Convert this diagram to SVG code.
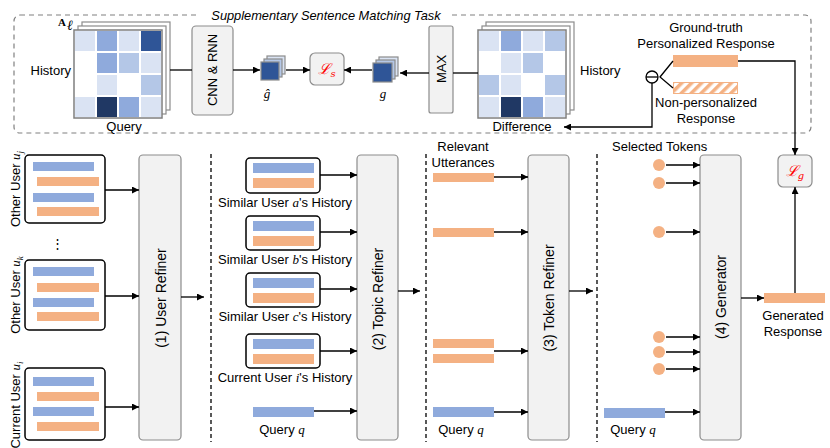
<svg xmlns="http://www.w3.org/2000/svg" width="830" height="448" viewBox="0 0 830 448">
<style>
text{font-family:"Liberation Sans",Arial,sans-serif;font-size:13px;fill:#000}
.m{font-family:"Liberation Serif","Times New Roman",serif;font-style:italic}
.ttl{font-style:italic;font-size:12.8px}
.rl{font-size:14px}
.ln{stroke:#000;stroke-width:1.3;fill:none}
.ar{stroke:#000;stroke-width:1.3;fill:none;marker-end:url(#ah)}
.sep{stroke:#000;stroke-width:1.3;stroke-dasharray:4 3;fill:none}
.blk{fill:#fff;stroke:#000;stroke-width:1.5}
.ref{fill:#f2f2f2;stroke:#8c8c8c;stroke-width:1.2}
.bl{fill:#8faadc}
.or{fill:#f4b183}
.lay{fill:#fff;stroke:#8c8c8c;stroke-width:1.2}
.L{fill:#dae3f3}.M{fill:#8faadc}.LM{fill:#b4c7e7}.D{fill:#2f5597}.DD{fill:#203864}
.loss{fill:#ff0000;font-family:"DejaVu Serif","Liberation Serif",serif;font-style:italic;font-size:15px}
</style>
<defs>
<marker id="ah" viewBox="0 0 10 10" refX="10" refY="5" markerWidth="7" markerHeight="7" orient="auto" markerUnits="userSpaceOnUse">
<path d="M0,0 L10,5 L0,10 z" fill="#000"/>
</marker>
<pattern id="hatch" patternUnits="userSpaceOnUse" width="7" height="7" patternTransform="rotate(45)">
<rect width="7" height="7" fill="#fff"/>
<rect width="3.5" height="7" fill="#f4b183"/>
</pattern>
</defs>

<!-- supplementary dashed region -->
<g id="supp-frame">
<rect x="14" y="15" width="797" height="118" rx="6" fill="none" stroke="#808080" stroke-width="1.2" stroke-dasharray="5 4"/>
<rect x="200" y="8" width="252" height="14" fill="#fff"/>
<text class="ttl" x="326" y="20" text-anchor="middle">Supplementary Sentence Matching Task</text>
</g>

<!-- matrix A -->
<g id="matrixA">
<rect class="lay" x="82" y="22" width="88" height="88"/>
<rect class="lay" x="78" y="26" width="88" height="88"/>
<rect x="74" y="30" width="88" height="88" fill="#fff" stroke="#7f7f7f" stroke-width="1.5"/>
<rect class="L" x="75" y="31" width="20" height="20"/><rect class="M" x="97" y="31" width="20" height="20"/><rect class="L" x="119" y="31" width="20" height="20"/><rect class="D" x="141" y="31" width="20" height="20"/>
<rect class="M" x="97" y="53" width="20" height="20"/><rect class="LM" x="119" y="53" width="20" height="20"/><rect class="L" x="141" y="53" width="20" height="20"/>
<rect class="L" x="97" y="75" width="20" height="20"/><rect class="LM" x="141" y="75" width="20" height="20"/>
<rect class="L" x="75" y="97" width="20" height="20"/><rect class="DD" x="97" y="97" width="20" height="20"/><rect class="M" x="119" y="97" width="20" height="20"/><rect class="L" x="141" y="97" width="20" height="20"/>
<text x="58" y="26" style="font-family:'Liberation Serif',serif;font-weight:bold;font-size:11px">A</text>
<text class="m" x="67" y="30" style="font-size:14px">ℓ</text>
<text x="71" y="75" text-anchor="end">History</text>
<text x="124" y="131" text-anchor="middle">Query</text>
</g>

<g id="cnn">
<rect class="ref" x="192" y="26" width="41" height="89" rx="4"/>
<text transform="translate(217,70) rotate(-90)" text-anchor="middle">CNN &amp; RNN</text>
</g>

<g id="ghat">
<rect class="lay" x="267" y="56" width="18" height="18" style="fill:#dae3f3"/>
<rect class="lay" x="264" y="59" width="18" height="18" style="fill:#b4c7e7"/>
<rect x="261" y="62" width="18" height="18" fill="#2f5597" stroke="#8c8c8c" stroke-width="1.2"/>
<text class="m" x="267" y="98" text-anchor="middle">ĝ</text>
</g>

<g id="Ls">
<rect class="ref" x="310" y="53" width="34" height="32" rx="5"/>
<text class="loss" x="327" y="74" text-anchor="middle">ℒ<tspan font-size="10" dy="3">s</tspan></text>
</g>

<g id="g">
<rect class="lay" x="379" y="57" width="19" height="19" style="fill:#dae3f3"/>
<rect class="lay" x="376" y="60" width="19" height="19" style="fill:#b4c7e7"/>
<rect x="373" y="63" width="19" height="19" fill="#2f5597" stroke="#8c8c8c" stroke-width="1.2"/>
<text class="m" x="383" y="98" text-anchor="middle">g</text>
</g>

<g id="max">
<rect class="ref" x="429" y="26" width="24" height="87" rx="2"/>
<text transform="translate(446,69) rotate(-90)" text-anchor="middle">MAX</text>
</g>

<g id="diff">
<rect class="lay" x="486" y="22" width="88" height="88"/>
<rect class="lay" x="482" y="26" width="88" height="88"/>
<rect x="478" y="30" width="88" height="88" fill="#fff" stroke="#7f7f7f" stroke-width="1.5"/>
<rect class="L" x="479" y="31" width="20" height="20"/><rect class="M" x="501" y="31" width="20" height="20"/><rect class="L" x="523" y="31" width="20" height="20"/><rect class="LM" x="545" y="31" width="20" height="20"/>
<rect class="L" x="501" y="53" width="20" height="20"/><rect class="LM" x="523" y="53" width="20" height="20"/>
<rect class="LM" x="479" y="75" width="20" height="20"/><rect class="L" x="501" y="75" width="20" height="20"/><rect class="LM" x="545" y="75" width="20" height="20"/>
<rect class="L" x="479" y="97" width="20" height="20"/><rect class="DD" x="501" y="97" width="20" height="20"/><rect class="M" x="523" y="97" width="20" height="20"/><rect class="L" x="545" y="97" width="20" height="20"/>
<text x="580" y="75">History</text>
<text x="522" y="131" text-anchor="middle">Difference</text>
</g>

<g id="responses">
<text x="706" y="32" text-anchor="middle">Ground-truth</text>
<text x="706" y="48" text-anchor="middle">Personalized Response</text>
<rect class="or" x="673" y="55" width="65" height="12"/>
<rect x="673.5" y="82.5" width="64" height="11" fill="url(#hatch)" stroke="#f4b183" stroke-width="1"/>
<text x="706" y="107" text-anchor="middle">Non-personalized</text>
<text x="706" y="123" text-anchor="middle">Response</text>
<circle cx="652" cy="77" r="6" fill="#fff" stroke="#000" stroke-width="1.3"/>
<line x1="646" y1="77" x2="658" y2="77" stroke="#000" stroke-width="1.3"/>
</g>

<!-- bottom: left column -->
<g id="users">
<rect class="blk" x="25" y="155" width="80" height="68" rx="4"/>
<rect class="bl" x="33" y="162" width="61" height="9"/><rect class="or" x="37" y="177" width="62" height="9"/>
<rect class="bl" x="33" y="193" width="61" height="9"/><rect class="or" x="37" y="207" width="62" height="9"/>
<rect class="blk" x="25" y="260" width="80" height="70" rx="4"/>
<rect class="bl" x="33" y="267" width="61" height="9"/><rect class="or" x="37" y="283" width="62" height="9"/>
<rect class="bl" x="33" y="298" width="61" height="9"/><rect class="or" x="37" y="312" width="62" height="9"/>
<rect class="blk" x="25" y="368" width="80" height="72" rx="4"/>
<rect class="bl" x="33" y="377" width="61" height="9"/><rect class="or" x="37" y="392" width="62" height="9"/>
<rect class="bl" x="33" y="407" width="61" height="9"/><rect class="or" x="37" y="422" width="62" height="9"/>
<text x="57" y="248" text-anchor="middle">⋮</text>
<text transform="translate(20,189) rotate(-90)" text-anchor="middle">Other User <tspan class="m">u</tspan><tspan class="m" font-size="9" dy="3">j</tspan></text>
<text transform="translate(20,295) rotate(-90)" text-anchor="middle">Other User <tspan class="m">u</tspan><tspan class="m" font-size="9" dy="3">k</tspan></text>
<text transform="translate(20,405) rotate(-90)" text-anchor="middle">Current User <tspan class="m">u</tspan><tspan class="m" font-size="9" dy="3">i</tspan></text>
</g>

<g id="user-refiner">
<rect class="ref" x="139" y="155" width="42" height="285" rx="4"/>
<text class="rl" transform="translate(166,298) rotate(-90)" text-anchor="middle">(1) User Refiner</text>
</g>

<g id="similar">
<rect class="blk" x="246" y="158" width="74" height="35" rx="4"/>
<rect class="bl" x="253" y="163" width="61" height="10"/><rect class="or" x="253" y="178" width="61" height="10"/>
<text x="285" y="207" text-anchor="middle">Similar User <tspan class="m">a</tspan>'s History</text>
<rect class="blk" x="246" y="216" width="74" height="34" rx="4"/>
<rect class="bl" x="253" y="221" width="61" height="10"/><rect class="or" x="253" y="236" width="61" height="10"/>
<text x="285" y="264" text-anchor="middle">Similar User <tspan class="m">b</tspan>'s History</text>
<rect class="blk" x="246" y="273" width="74" height="34" rx="4"/>
<rect class="bl" x="253" y="278" width="61" height="10"/><rect class="or" x="253" y="293" width="61" height="10"/>
<text x="285" y="321" text-anchor="middle">Similar User <tspan class="m">c</tspan>'s History</text>
<rect class="blk" x="246" y="334" width="74" height="34" rx="4"/>
<rect class="bl" x="253" y="339" width="61" height="10"/><rect class="or" x="253" y="354" width="61" height="10"/>
<text x="285" y="382" text-anchor="middle">Current User <tspan class="m">i</tspan>'s History</text>
<rect class="bl" x="253" y="407" width="61" height="10"/>
<text x="282" y="434" text-anchor="middle">Query <tspan class="m">q</tspan></text>
</g>

<g id="topic-refiner">
<rect class="ref" x="357" y="155" width="41" height="285" rx="4"/>
<text class="rl" transform="translate(383,299) rotate(-90)" text-anchor="middle">(2) Topic Refiner</text>
</g>

<g id="utterances">
<text x="463" y="151" text-anchor="middle">Relevant</text>
<text x="463" y="167" text-anchor="middle">Utterances</text>
<rect class="or" x="433" y="173" width="61" height="9"/>
<rect class="or" x="433" y="228" width="61" height="9"/>
<rect class="or" x="433" y="339" width="61" height="9"/>
<rect class="or" x="433" y="354" width="61" height="9"/>
<rect class="bl" x="433" y="407" width="61" height="10"/>
<text x="461" y="434" text-anchor="middle">Query <tspan class="m">q</tspan></text>
</g>

<g id="token-refiner">
<rect class="ref" x="528" y="155" width="41" height="285" rx="4"/>
<text class="rl" transform="translate(554,298) rotate(-90)" text-anchor="middle">(3) Token Refiner</text>
</g>

<g id="tokens">
<text x="612" y="151">Selected Tokens</text>
<circle class="or" cx="659" cy="165" r="6"/>
<circle class="or" cx="659" cy="183" r="6"/>
<circle class="or" cx="659" cy="232" r="6"/>
<circle class="or" cx="659" cy="337" r="6"/>
<circle class="or" cx="659" cy="352" r="6"/>
<circle class="or" cx="659" cy="369" r="6"/>
<rect class="bl" x="604" y="408" width="61" height="10"/>
<text x="633" y="434" text-anchor="middle">Query <tspan class="m">q</tspan></text>
</g>

<g id="generator">
<rect class="ref" x="700" y="155" width="41" height="285" rx="4"/>
<text class="rl" transform="translate(726,297) rotate(-90)" text-anchor="middle">(4) Generator</text>
</g>

<g id="generated">
<rect class="or" x="764" y="293" width="61" height="10"/>
<text x="793" y="320" text-anchor="middle">Generated</text>
<text x="793" y="336" text-anchor="middle">Response</text>
</g>

<g id="Lg">
<rect class="ref" x="778" y="155" width="34" height="32" rx="5"/>
<text class="loss" x="795" y="176" text-anchor="middle">ℒ<tspan font-size="10" dy="3">g</tspan></text>
</g>

<g id="connectors">
<line class="sep" x1="211" y1="154" x2="211" y2="442"/>
<line class="sep" x1="426" y1="154" x2="426" y2="442"/>
<line class="sep" x1="597" y1="154" x2="597" y2="442"/>
<!-- top -->
<line class="ln" x1="170" y1="70" x2="192" y2="70"/>
<line class="ar" x1="233" y1="70" x2="260" y2="70"/>
<line class="ar" x1="286" y1="70" x2="310" y2="70"/>
<line class="ar" x1="372" y1="70" x2="344" y2="70"/>
<line class="ar" x1="429" y1="73" x2="400" y2="73"/>
<line class="ln" x1="453" y1="73" x2="478" y2="73"/>
<polyline class="ln" points="673,61 660,77 673,88"/>
<polyline class="ar" points="652,83 652,127 564,127"/>
<polyline class="ar" points="738,61 795,61 795,155"/>
<!-- users -->
<line class="ar" x1="105" y1="190" x2="139" y2="190"/>
<line class="ar" x1="105" y1="296" x2="139" y2="296"/>
<line class="ar" x1="105" y1="407" x2="139" y2="407"/>
<line class="ar" x1="181" y1="297" x2="204" y2="297"/>
<!-- similar -->
<line class="ar" x1="320" y1="175" x2="357" y2="175"/>
<line class="ar" x1="320" y1="232" x2="357" y2="232"/>
<line class="ar" x1="320" y1="289" x2="357" y2="289"/>
<line class="ar" x1="320" y1="351" x2="357" y2="351"/>
<line class="ar" x1="314" y1="411" x2="357" y2="411"/>
<line class="ar" x1="398" y1="291" x2="420" y2="291"/>
<!-- utterances -->
<line class="ar" x1="494" y1="177" x2="528" y2="177"/>
<line class="ar" x1="494" y1="232" x2="528" y2="232"/>
<line class="ar" x1="494" y1="351" x2="528" y2="351"/>
<line class="ar" x1="494" y1="412" x2="528" y2="412"/>
<line class="ar" x1="569" y1="291" x2="593" y2="291"/>
<!-- tokens -->
<line class="ar" x1="666" y1="165" x2="700" y2="165"/>
<line class="ar" x1="666" y1="183" x2="700" y2="183"/>
<line class="ar" x1="666" y1="232" x2="700" y2="232"/>
<line class="ar" x1="666" y1="337" x2="700" y2="337"/>
<line class="ar" x1="666" y1="352" x2="700" y2="352"/>
<line class="ar" x1="666" y1="369" x2="700" y2="369"/>
<line class="ar" x1="665" y1="412" x2="700" y2="412"/>
<line class="ar" x1="741" y1="298" x2="764" y2="298"/>
<line class="ar" x1="795" y1="293" x2="795" y2="187"/>
</g>
</svg>
